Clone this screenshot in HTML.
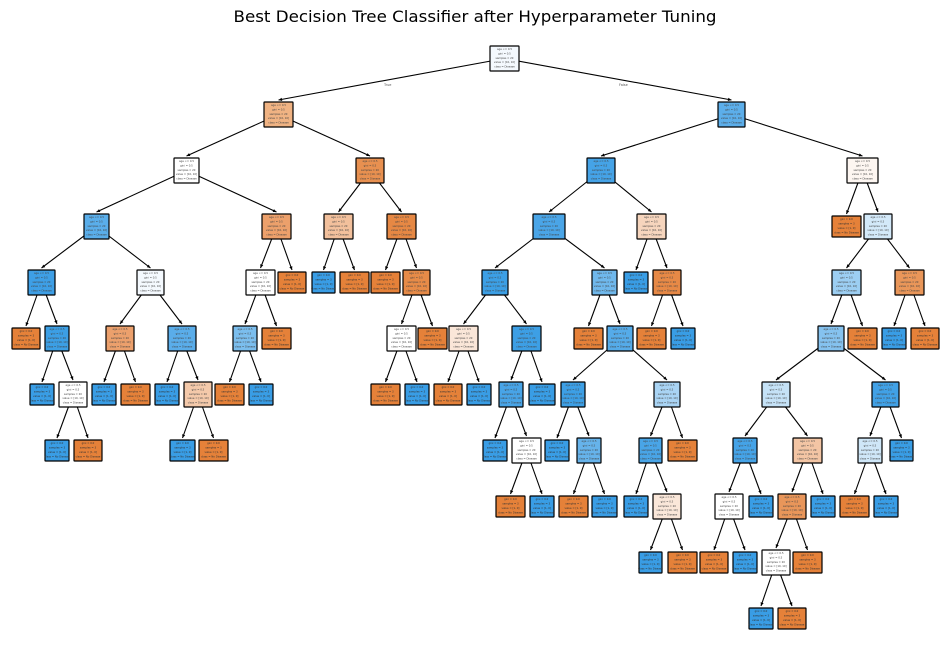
<!DOCTYPE html>
<html><head><meta charset="utf-8"><style>
html,body{margin:0;padding:0;background:#fff;width:950px;height:656px;overflow:hidden}
svg{display:block}
</style></head><body>
<svg id="s" width="950" height="656" xmlns="http://www.w3.org/2000/svg">
<text x="475" y="22" text-anchor="middle" font-family="DejaVu Sans, sans-serif" font-size="16" textLength="483" lengthAdjust="spacingAndGlyphs" fill="#000">Best Decision Tree Classifier after Hyperparameter Tuning</text>
<text x="384" y="86" font-family="DejaVu Sans, sans-serif" font-size="3.5" fill="#555">True</text>
<text x="619" y="86" font-family="DejaVu Sans, sans-serif" font-size="3.5" fill="#555">False</text>
<g id="edges"></g><g id="nodes"></g>
</svg>
<script>
var O='#e58139',B='#399de5';
var rows=[46,102,158,214,270,326,382,438,494,550,606];
var T=[490,519,'#f4f9fe',
 [264,293,'#f0b383',
   [174,199,'#ffffff',
     [84,109,'#5aaeea',
       [28,55,'#3e9fe6',[12,40,O],[45,69,'#3c9fe5',[30,54,B],[59,87,'#ffffff',[45,69,B],[74,102,O]]]],
       [137,164,'#f4f9fe',[106,134,'#eca06c',[92,116,B],[121,150,O]],[168,196,'#5aadea',[155,179,B],[184,212,'#f4c9aa',[170,195,B],[199,228,O]]]]
     ],
     [262,291,'#eca06b',
       [246,275,'#ffffff',[233,257,'#7bbeee',[215,244,O],[249,273,B]],[262,291,O]],
       [278,306,O]
     ]
   ],
   [356,384,'#e89050',
     [324,353,'#f2c09c',[312,335,B],[340,369,O]],
     [387,416,'#e68844',[371,400,O],[403,430,'#e78b48',[387,416,'#ffffff',[371,400,O],[405,429,B]],[418,447,O]]]
   ]
 ],
 [718,745,'#5caeea',
   [587,615,'#45a3e7',
     [533,565,'#4aa5e7',
       [482,508,'#3c9fe5',[449,478,'#fae6d8',[434,462,O],[467,491,B]],[512,541,'#3d9fe5',[499,523,'#48a4e7',[483,507,B],[512,541,'#ffffff',[496,525,O],[530,554,B]]],[529,555,B]]],
       [592,617,'#6fb8ec',[574,603,O],[607,633,'#55abe9',[561,585,'#3d9fe5',[545,569,B],[577,601,'#66b3eb',[559,588,O],[592,617,B]]],[654,680,'#a9d4f4',[639,662,'#49a5e7',[624,648,B],[653,681,'#fae7d9',[639,662,B],[668,697,O]]],[668,697,O]]]]
     ],
     [637,666,'#f6d5bd',[624,648,B],[653,681,'#e78946',[637,666,O],[671,695,B]]]
   ],
   [847,878,'#fdf6f1',
     [832,861,O],
     [864,892,'#d3e9f9',
       [832,861,'#9ccef2',[818,844,'#85c2ef',[762,790,'#c5e2f7',[733,757,'#45a3e7',[715,743,'#ffffff',[700,728,O],[733,757,B]],[749,773,B]],[793,822,'#f3c5a4',[778,806,'#e9965a',[762,790,'#ffffff',[749,773,B],[778,806,O]],[793,822,O]],[811,835,B]]],[872,899,'#41a1e6',[858,882,'#cfe7f8',[840,869,O],[874,898,B]],[890,913,B]]],[848,877,O]],
       [895,924,'#e99659',[882,906,B],[911,939,O]]
     ]
   ]
 ]
];
var NS='http://www.w3.org/2000/svg';
var E=document.getElementById('edges'),N=document.getElementById('nodes');
function el(t,a,p){var e=document.createElementNS(NS,t);for(var k in a)e.setAttribute(k,a[k]);p.appendChild(e);return e;}
function geom(n,d){var leaf=n.length<4;var top=rows[d]+(leaf?2:0);var h=leaf?21:25;return{x1:n[0],x2:n[1],top:top,h:h,cx:(n[0]+n[1])/2,cy:top+h/2,leaf:leaf};}
function draw(n,d){
 var g=geom(n,d);
 el('rect',{x:g.x1,y:g.top,width:g.x2-g.x1,height:g.h,rx:0.5,fill:n[2],stroke:'#000','stroke-width':1.2},N);
 var dark=(n[2]==O||n[2]==B);
 var lines=g.leaf?['gini = 0.0','samples = 3','value = [1, 0]','class = No Disease']:['age <= 0.5','gini = 0.5','samples = 20','value = [10, 10]','class = Disease'];
 for(var i=0;i<lines.length;i++){
  var t=el('text',{x:g.cx,y:g.top+4+i*(g.h-3)/lines.length,'text-anchor':'middle','font-family':'DejaVu Sans, sans-serif','font-size':2.6,fill:dark?'#333':'#444'},N);
  t.textContent=lines[i];
 }
 for(var c=3;c<n.length;c++){
  var k=n[c],kg=geom(k,d+1);
  var ex=kg.cx,ey=kg.top-2;
  el('line',{x1:g.cx,y1:g.cy,x2:ex,y2:ey,stroke:'#000','stroke-width':1.1},E);
  var dx=ex-g.cx,dy=ey-g.cy,L=Math.sqrt(dx*dx+dy*dy);dx/=L;dy/=L;
  var bx=ex-dx*3.5,by=ey-dy*3.5;
  el('polygon',{points:ex+','+ey+' '+(bx-dy*1.6)+','+(by+dx*1.6)+' '+(bx+dy*1.6)+','+(by-dx*1.6),fill:'#000'},E);
  draw(k,d+1);
 }
}
draw(T,0);
</script>
</body></html>
